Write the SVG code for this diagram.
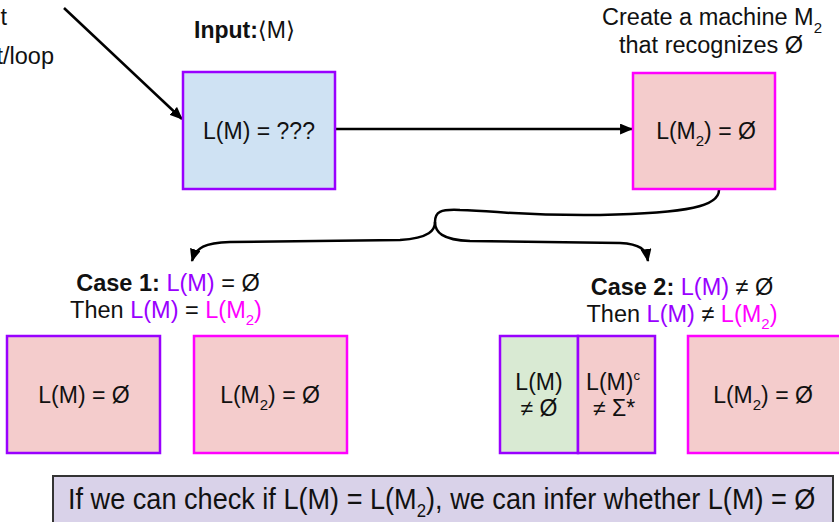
<svg xmlns="http://www.w3.org/2000/svg" width="839" height="522" viewBox="0 0 839 522">
  <defs>
    <marker id="arrow" viewBox="0 0 12 10" refX="11" refY="5" markerWidth="13" markerHeight="11" markerUnits="userSpaceOnUse" orient="auto">
      <path d="M0,0 L12,5 L0,10 z" fill="#000"/>
    </marker>
    <style>
      text { font-family: "Liberation Sans", Arial, sans-serif; fill: #111; }
      .node-text { font-size: 23px; text-anchor: middle; }
      .label { font-size: 23.5px; }
      .bold { font-weight: bold; }
      .pur { fill: #9900ff; }
      .mag { fill: #ff00ff; }
      .sub { font-size: 15px; }
      .edge { fill: none; stroke: #000; stroke-width: 2.5; }
      .blue { fill: #cfe2f3; stroke: #9900ff; stroke-width: 2.5; }
      .red-p { fill: #f4cccc; stroke: #9900ff; stroke-width: 2.5; }
      .red-m { fill: #f4cccc; stroke: #ff00ff; stroke-width: 2.5; }
      .green-p { fill: #d9ead3; stroke: #9900ff; stroke-width: 2.5; }
    </style>
  </defs>

  <!-- side note running off the left edge -->
  <text class="label" x="7" y="25" text-anchor="end">t</text>
  <text class="label" x="54" y="64" text-anchor="end">t/loop</text>

  <!-- headings -->
  <text x="194" y="38" style="font-size:23px;font-weight:bold">Input:<tspan style="font-weight:normal;font-family:'DejaVu Sans',sans-serif">⟨</tspan><tspan style="font-weight:normal">M</tspan><tspan style="font-weight:normal;font-family:'DejaVu Sans',sans-serif">⟩</tspan></text>
  <text class="label" x="712" y="25" text-anchor="middle">Create a machine M<tspan class="sub" dy="8">2</tspan></text>
  <text class="label" x="711" y="53" text-anchor="middle">that recognizes Ø</text>

  <!-- connectors -->
  <g id="connectors">
    <line class="edge" x1="64" y1="8" x2="182" y2="119" marker-end="url(#arrow)"/>
    <line class="edge" x1="335" y1="129" x2="632" y2="129" marker-end="url(#arrow)"/>
    <path class="edge" d="M719,190 C719,206 690,213 600,215 C520,216 500,211 460,210 C440,209 435,212 435,222 C435,230 430,238 400,240 L230,242 C205,243 196,247 192,261" marker-end="url(#arrow)"/>
    <path class="edge" d="M435,222 C435,232 442,240 470,241 L620,243 C640,244 646,249 648,261" marker-end="url(#arrow)"/>
  </g>

  <!-- top nodes -->
  <g id="input-node">
    <rect class="blue" x="183" y="72" width="152" height="117"/>
    <text class="node-text" x="259" y="139">L(M) = ???</text>
  </g>
  <g id="m2-node">
    <rect class="red-m" x="633" y="73" width="142" height="116"/>
    <text class="node-text" x="706" y="139">L(M<tspan class="sub" dy="7">2</tspan><tspan dy="-7">) = Ø</tspan></text>
  </g>

  <!-- case captions -->
  <text class="label" x="168" y="291" text-anchor="middle"><tspan class="bold">Case 1:</tspan> <tspan class="pur">L(M)</tspan> = Ø</text>
  <text class="label" x="166" y="318" text-anchor="middle">Then <tspan class="pur">L(M)</tspan> = <tspan class="mag">L(M</tspan><tspan class="mag sub" dy="7">2</tspan><tspan class="mag" dy="-7">)</tspan></text>
  <text class="label" x="682" y="295" text-anchor="middle"><tspan class="bold">Case 2:</tspan> <tspan class="pur">L(M)</tspan> ≠ Ø</text>
  <text class="label" x="682" y="322" text-anchor="middle">Then <tspan class="pur">L(M)</tspan> ≠ <tspan class="mag">L(M</tspan><tspan class="mag sub" dy="7">2</tspan><tspan class="mag" dy="-7">)</tspan></text>

  <!-- case 1 nodes -->
  <g id="case1-lm">
    <rect class="red-p" x="7" y="336" width="153" height="117"/>
    <text class="node-text" x="84" y="403">L(M) = Ø</text>
  </g>
  <g id="case1-lm2">
    <rect class="red-m" x="194" y="336" width="153" height="117"/>
    <text class="node-text" x="270" y="403">L(M<tspan class="sub" dy="7">2</tspan><tspan dy="-7">) = Ø</tspan></text>
  </g>

  <!-- case 2 nodes -->
  <g id="case2-lm">
    <rect class="green-p" x="500" y="336" width="78" height="117"/>
    <rect class="red-p" x="578" y="336" width="77" height="117"/>
    <text class="node-text" x="539" y="390">L(M)</text>
    <text class="node-text" x="539" y="416">≠ Ø</text>
    <text class="node-text" x="613" y="390">L(M)<tspan font-size="13px" dy="-10">c</tspan></text>
    <text class="node-text" x="614" y="416">≠ Σ*</text>
  </g>
  <g id="case2-lm2">
    <rect class="red-m" x="688" y="336" width="160" height="117"/>
    <text class="node-text" x="763" y="403">L(M<tspan class="sub" dy="7">2</tspan><tspan dy="-7">) = Ø</tspan></text>
  </g>

  <!-- conclusion: narrow lettering via horizontal scale -->
  <g id="conclusion">
    <rect x="53" y="476" width="780" height="60" fill="#d9d2e9" stroke="#333" stroke-width="2"/>
    <text transform="translate(68,509) scale(0.935,1)" font-size="29px">If we can check if L(M) = L(M<tspan font-size="18px" dy="8">2</tspan><tspan dy="-8">), we can infer whether L(M) = Ø</tspan></text>
  </g>
</svg>
